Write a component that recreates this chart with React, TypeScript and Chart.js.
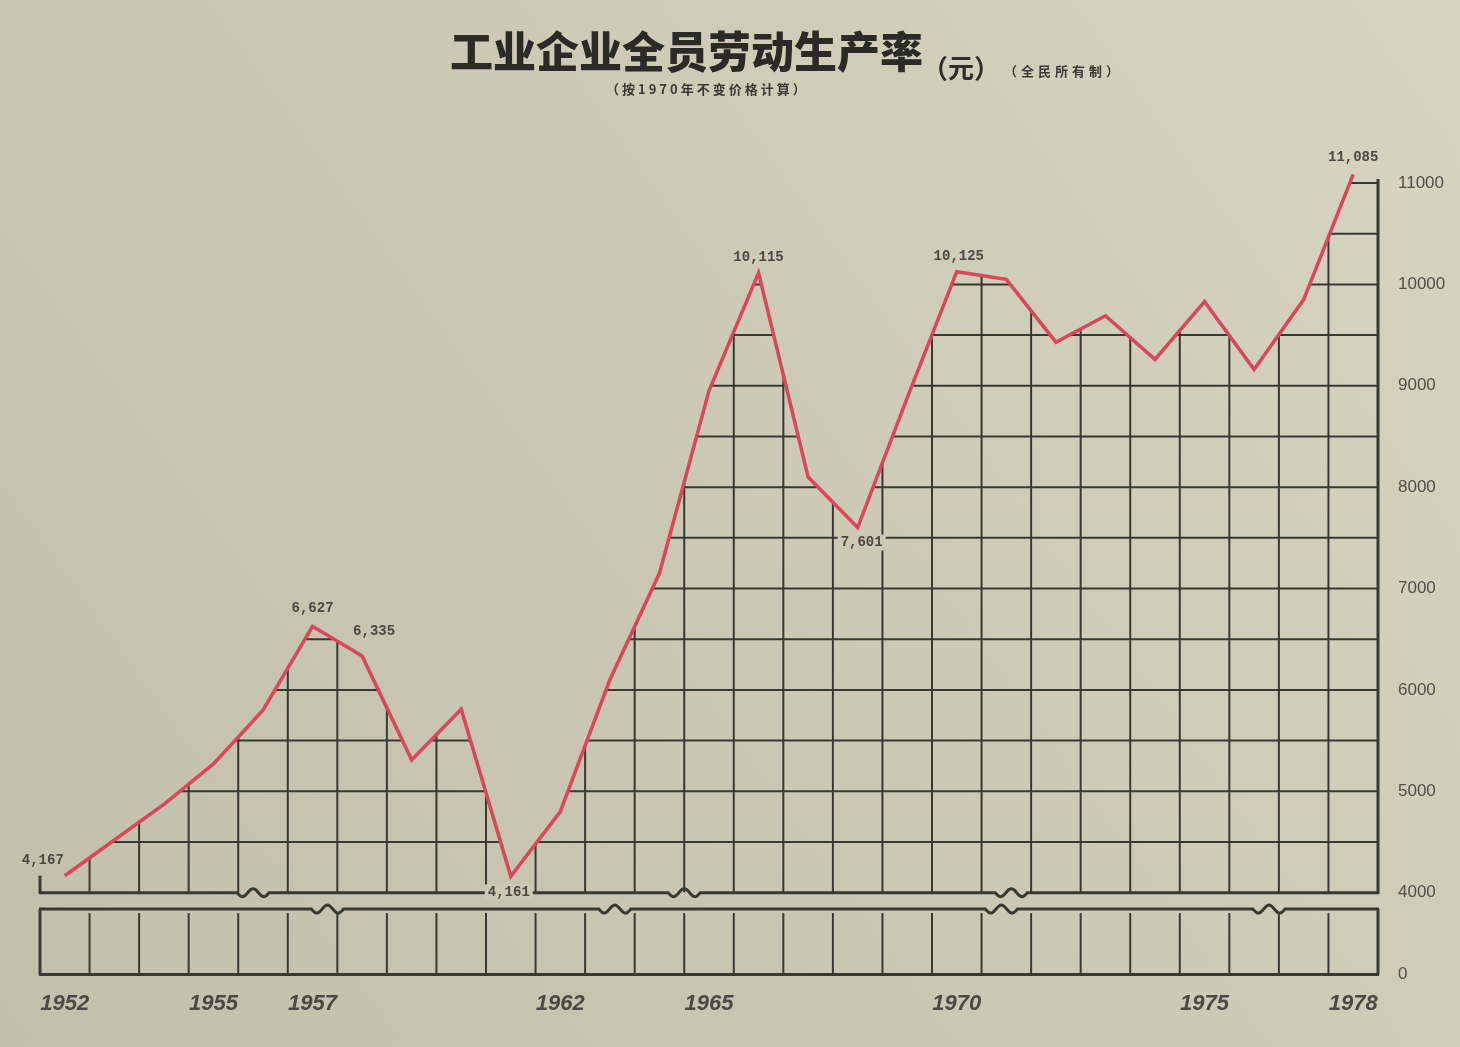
import React, { useEffect, useRef } from "react";
import { Chart, registerables } from "chart.js";

Chart.register(...registerables);

// ---- data ----
const years = [
  1952, 1953, 1954, 1955, 1956, 1957, 1958, 1959, 1960, 1961, 1962, 1963, 1964,
  1965, 1966, 1967, 1968, 1969, 1970, 1971, 1972, 1973, 1974, 1975, 1976, 1977, 1978,
];
const productivity = [
  4167, 4520, 4870, 5270, 5800, 6627, 6335, 5310, 5810, 4161, 4800, 6100, 7150,
  8950, 10115, 8100, 7601, 8880, 10125, 10050, 9430, 9690, 9260, 9830, 9160, 9850, 11085,
];
const labeledYears = [1952, 1957, 1958, 1961, 1966, 1968, 1970, 1978];
const xTickYears = [1952, 1955, 1957, 1962, 1965, 1970, 1975, 1978];
const yTickValues = [4000, 5000, 6000, 7000, 8000, 9000, 10000, 11000];
const lowerTickValues = [0];
const gridStep = 500;

// ---- styles ----
const INK = "#363a32";
const RED = "#d8475a";
const LABEL_INK = "#4a4a44";

// label placement (pixel offsets from the point, and whether the label knocks out the line behind it)
const labelStyle: Record<number, { dx: number; dy: number; knock?: boolean }> = {
  1952: { dx: -22, dy: -15 },
  1957: { dx: 0, dy: -18 },
  1958: { dx: 12, dy: -24 },
  1961: { dx: -2, dy: 16, knock: true },
  1966: { dx: 0, dy: -15 },
  1968: { dx: 4, dy: 15, knock: true },
  1970: { dx: 2, dy: -15 },
  1978: { dx: 0, dy: -17 },
};
const mainBreaks = [3.8, 12.5, 19.1];
const lowerBreaks = [5.3, 11.1, 18.9, 24.3];

function fmt(v: number) {
  return v.toLocaleString("en-US");
}

function seg(ctx: CanvasRenderingContext2D, x0: number, y0: number, x1: number, y1: number) {
  ctx.beginPath();
  ctx.moveTo(x0, y0);
  ctx.lineTo(x1, y1);
  ctx.stroke();
}

function wavy(ctx: CanvasRenderingContext2D, x0: number, x1: number, yy: number, breaks: number[]) {
  ctx.beginPath();
  ctx.moveTo(x0, yy);
  for (const bx of breaks.slice().sort((a, b) => a - b)) {
    ctx.lineTo(bx - 16, yy);
    for (let t = 0; t <= 32; t++) {
      ctx.lineTo(bx - 16 + t, yy + 4 * Math.sin((t / 32) * Math.PI * 3));
    }
  }
  ctx.lineTo(x1, yy);
  ctx.stroke();
}

const paperPlugin = {
  id: "paper",
  beforeDraw(chart: any) {
    const { ctx, width, height } = chart;
    const g = ctx.createLinearGradient(0, height, width, 0);
    g.addColorStop(0, "#c2c0aa");
    g.addColorStop(0.5, "#cbc9b3");
    g.addColorStop(1, "#d7d4c1");
    ctx.save();
    ctx.fillStyle = g;
    ctx.fillRect(0, 0, width, height);
    ctx.restore();
  },
};

const gridPlugin = {
  id: "sketchGrid",
  beforeDatasetsDraw(chart: any) {
    const { ctx, chartArea } = chart;
    const xs = chart.scales.x;
    const ys = chart.scales.y;
    const y2 = chart.scales.y2;
    const left = chartArea.left;
    const right = chartArea.right;
    const yTop = ys.getPixelForValue(ys.max);
    const yBase = ys.getPixelForValue(ys.min);
    const pts = chart.getDatasetMeta(0).data.map((p: any) => ({ x: p.x, y: p.y }));
    const n = pts.length;
    const x0 = xs.getPixelForValue(0);
    const step = xs.getPixelForValue(1) - x0;
    const half = step / 2;

    ctx.save();
    ctx.strokeStyle = INK;
    // grid only beneath the curve
    ctx.beginPath();
    ctx.moveTo(left, yBase);
    ctx.lineTo(left, pts[0].y);
    pts.forEach((p: any) => ctx.lineTo(p.x, p.y));
    ctx.lineTo(right, pts[n - 1].y);
    ctx.lineTo(right, yBase);
    ctx.closePath();
    ctx.clip();
    ctx.beginPath();
    ctx.rect(left, yTop - 2, right - left, yBase - yTop + 2);
    ctx.clip();
    ctx.lineWidth = 2;
    for (let v = ys.min + gridStep; v <= ys.max; v += gridStep) {
      const py = ys.getPixelForValue(v);
      seg(ctx, left, py, right, py);
    }
    for (let i = 0; i < n - 1; i++) {
      const px = xs.getPixelForValue(i) + half;
      seg(ctx, px, yBase, px, yTop);
    }
    ctx.restore();

    ctx.save();
    ctx.strokeStyle = INK;
    ctx.lineWidth = 3;
    seg(ctx, right, yTop - 4, right, yBase + 1);
    seg(ctx, left, pts[0].y, left, yBase + 1);
    wavy(ctx, left - 1, right + 1, yBase, mainBreaks.map((b) => x0 + b * step));

    const yb0 = y2.getPixelForValue(0);
    const ybt = y2.getPixelForValue(800);
    wavy(ctx, left - 1, right + 1, ybt, lowerBreaks.map((b) => x0 + b * step));
    seg(ctx, left - 1, yb0, right + 1, yb0);
    seg(ctx, left, ybt, left, yb0);
    seg(ctx, right, ybt, right, yb0);
    ctx.lineWidth = 2;
    for (let i = 0; i < n - 1; i++) {
      const px = xs.getPixelForValue(i) + half;
      seg(ctx, px, ybt + 4, px, yb0);
    }
    ctx.restore();
  },
};

const labelPlugin = {
  id: "pointLabels",
  afterDatasetsDraw(chart: any) {
    const { ctx } = chart;
    const pts = chart.getDatasetMeta(0).data;
    ctx.save();
    ctx.font = 'bold 14px "Liberation Mono", "DejaVu Sans Mono", monospace';
    ctx.textAlign = "center";
    ctx.textBaseline = "middle";
    labeledYears.forEach((yr) => {
      const i = years.indexOf(yr);
      const st = labelStyle[yr] || { dx: 0, dy: -15 };
      const text = fmt(productivity[i]);
      const tx = pts[i].x + st.dx;
      const ty = pts[i].y + st.dy;
      if (st.knock) {
        const w = ctx.measureText(text).width + 6;
        ctx.fillStyle = "#cbc9b3";
        ctx.fillRect(tx - w / 2, ty - 8, w, 16);
      }
      ctx.fillStyle = LABEL_INK;
      ctx.fillText(text, tx, ty);
    });
    ctx.restore();
  },
};

export default function App() {
  const ref = useRef<HTMLCanvasElement>(null);

  useEffect(() => {
    if (!ref.current) return;
    const chart = new Chart(ref.current, {
      type: "line",
      data: {
        labels: years.map(String),
        datasets: [
          {
            data: productivity,
            yAxisID: "y",
            borderColor: RED,
            borderWidth: 3.5,
            borderJoinStyle: "miter",
            pointRadius: 0,
            tension: 0,
            fill: false,
            clip: false as any,
          },
        ],
      },
      options: {
        responsive: false,
        animation: false,
        layout: { padding: { top: 183, left: 40, right: 0, bottom: 22 } },
        plugins: {
          legend: { display: false },
          tooltip: { enabled: false },
          title: { display: false },
        },
        scales: {
          x: {
            type: "category",
            offset: true,
            grid: { display: false },
            border: { display: false },
            ticks: {
              autoSkip: false,
              maxRotation: 0,
              padding: 8,
              color: "#4a4a44",
              font: { family: '"Liberation Sans Narrow", "Liberation Sans", sans-serif', size: 22, style: "italic", weight: "bold" },
              callback: (_v: any, idx: number) => (xTickYears.includes(years[idx]) ? String(years[idx]) : ""),
            },
          },
          y: {
            type: "linear",
            position: "right",
            stack: "v",
            stackWeight: 719,
            min: 4000,
            max: 11000,
            grid: { display: false },
            border: { display: false },
            afterBuildTicks: (s: any) => {
              s.ticks = yTickValues.map((v) => ({ value: v }));
            },
            afterFit: (s: any) => {
              s.width = 82;
            },
            ticks: {
              padding: 12,
              color: "#505049",
              font: { family: '"Liberation Sans", sans-serif', size: 17 },
              callback: (v: any) => String(v),
            },
          },
          y2: {
            type: "linear",
            position: "right",
            stack: "v",
            stackWeight: 83,
            min: 0,
            max: 1000,
            grid: { display: false },
            border: { display: false },
            afterBuildTicks: (s: any) => {
              s.ticks = lowerTickValues.map((v) => ({ value: v }));
            },
            afterFit: (s: any) => {
              s.width = 82;
            },
            ticks: {
              padding: 12,
              color: "#505049",
              font: { family: '"Liberation Sans", sans-serif', size: 17 },
              callback: (v: any) => String(v),
            },
          },
        },
      } as any,
      plugins: [paperPlugin, gridPlugin, labelPlugin],
    });
    return () => chart.destroy();
  }, []);

  const cjk = '"Noto Sans CJK SC", "Noto Sans CJK TC", sans-serif';
  return (
    <div style={{ position: "fixed", left: 0, top: 0, width: 1460, height: 1047, overflow: "hidden" }}>
      <canvas ref={ref} width={1460} height={1047} style={{ position: "absolute", left: 0, top: 0, width: 1460, height: 1047 }} />
      <div style={{ position: "absolute", left: 450, top: 28, fontFamily: cjk, fontWeight: 900, fontSize: 43, lineHeight: 1, color: "#2a2a26", whiteSpace: "nowrap" }}>
        工业企业全员劳动生产率
      </div>
      <div style={{ position: "absolute", left: 922, top: 54, fontFamily: cjk, fontWeight: 700, fontSize: 26, lineHeight: 1, color: "#2e2e2a", whiteSpace: "nowrap" }}>
        （元）
      </div>
      <div style={{ position: "absolute", left: 1004, top: 64, fontFamily: cjk, fontWeight: 700, fontSize: 13, letterSpacing: 4, lineHeight: 1, color: "#3a3a35", whiteSpace: "nowrap" }}>
        （全民所有制）
      </div>
      <div style={{ position: "absolute", left: 606, top: 82, fontFamily: cjk, fontWeight: 700, fontSize: 13, letterSpacing: 3, lineHeight: 1, color: "#3a3a35", whiteSpace: "nowrap" }}>
        （按1970年不变价格计算）
      </div>
    </div>
  );
}
